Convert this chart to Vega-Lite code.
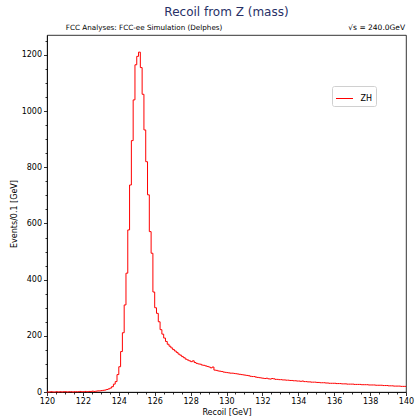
{
  "$schema": "https://vega.github.io/schema/vega-lite/v6.json",
  "autosize": {"type": "none"},
  "width": 359,
  "height": 357,
  "padding": {"left": 47, "top": 35, "right": 9, "bottom": 25},
  "background": "white",
  "title": {"text": "Recoil from Z (mass)", "fontSize": 12, "font": "DejaVu Sans", "fontWeight": "normal", "color": "#273066", "anchor": "middle", "offset": 5},
  "config": {
    "view": {"stroke": "#000", "strokeWidth": 0.8},
    "font": "DejaVu Sans",
    "axis": {"labelFont": "DejaVu Sans", "labelFontSize": 8, "labelColor": "#000", "titleFont": "DejaVu Sans", "titleFontSize": 8, "titleFontWeight": "normal", "titleColor": "#000", "tickColor": "#000", "domainColor": "#000", "grid": false, "tickSize": 3.5, "labelPadding": 2, "titlePadding": 3, "domainWidth": 0.8, "tickWidth": 0.8, "labelFlush": false, "labelOverlap": false}
  },
  "data": {"values": [
    {"recoil": 120.0, "events": 0}, {"recoil": 120.1, "events": 0}, {"recoil": 120.2, "events": 1}, {"recoil": 120.3, "events": 0}, {"recoil": 120.4, "events": 0},
    {"recoil": 120.5, "events": 1}, {"recoil": 120.6, "events": 0}, {"recoil": 120.7, "events": 1}, {"recoil": 120.8, "events": 0}, {"recoil": 120.9, "events": 1},
    {"recoil": 121.0, "events": 1}, {"recoil": 121.1, "events": 0}, {"recoil": 121.2, "events": 1}, {"recoil": 121.3, "events": 1}, {"recoil": 121.4, "events": 0},
    {"recoil": 121.5, "events": 1}, {"recoil": 121.6, "events": 1}, {"recoil": 121.7, "events": 1}, {"recoil": 121.8, "events": 2}, {"recoil": 121.9, "events": 1},
    {"recoil": 122.0, "events": 1}, {"recoil": 122.1, "events": 2}, {"recoil": 122.2, "events": 1}, {"recoil": 122.3, "events": 2}, {"recoil": 122.4, "events": 2},
    {"recoil": 122.5, "events": 3}, {"recoil": 122.6, "events": 2}, {"recoil": 122.7, "events": 3}, {"recoil": 122.8, "events": 4}, {"recoil": 122.9, "events": 4},
    {"recoil": 123.0, "events": 5}, {"recoil": 123.1, "events": 6}, {"recoil": 123.2, "events": 7}, {"recoil": 123.3, "events": 9}, {"recoil": 123.4, "events": 11},
    {"recoil": 123.5, "events": 14}, {"recoil": 123.6, "events": 19}, {"recoil": 123.7, "events": 28}, {"recoil": 123.8, "events": 37}, {"recoil": 123.9, "events": 62},
    {"recoil": 124.0, "events": 90}, {"recoil": 124.1, "events": 144}, {"recoil": 124.2, "events": 211}, {"recoil": 124.3, "events": 310}, {"recoil": 124.4, "events": 423},
    {"recoil": 124.5, "events": 577}, {"recoil": 124.6, "events": 737}, {"recoil": 124.7, "events": 895}, {"recoil": 124.8, "events": 1040}, {"recoil": 124.9, "events": 1165},
    {"recoil": 125.0, "events": 1195}, {"recoil": 125.1, "events": 1210}, {"recoil": 125.2, "events": 1155}, {"recoil": 125.3, "events": 1060}, {"recoil": 125.4, "events": 933},
    {"recoil": 125.5, "events": 820}, {"recoil": 125.6, "events": 702}, {"recoil": 125.7, "events": 571}, {"recoil": 125.8, "events": 494}, {"recoil": 125.9, "events": 356},
    {"recoil": 126.0, "events": 300}, {"recoil": 126.1, "events": 280}, {"recoil": 126.2, "events": 250}, {"recoil": 126.3, "events": 222}, {"recoil": 126.4, "events": 206},
    {"recoil": 126.5, "events": 192}, {"recoil": 126.6, "events": 180}, {"recoil": 126.7, "events": 170}, {"recoil": 126.8, "events": 163}, {"recoil": 126.9, "events": 157},
    {"recoil": 127.0, "events": 151}, {"recoil": 127.1, "events": 146}, {"recoil": 127.2, "events": 141}, {"recoil": 127.3, "events": 135}, {"recoil": 127.4, "events": 131},
    {"recoil": 127.5, "events": 126}, {"recoil": 127.6, "events": 122}, {"recoil": 127.7, "events": 117}, {"recoil": 127.8, "events": 114}, {"recoil": 127.9, "events": 111},
    {"recoil": 128.0, "events": 108}, {"recoil": 128.1, "events": 111}, {"recoil": 128.2, "events": 105}, {"recoil": 128.3, "events": 102}, {"recoil": 128.4, "events": 100},
    {"recoil": 128.5, "events": 99}, {"recoil": 128.6, "events": 96}, {"recoil": 128.7, "events": 95}, {"recoil": 128.8, "events": 93}, {"recoil": 128.9, "events": 91},
    {"recoil": 129.0, "events": 89}, {"recoil": 129.1, "events": 86}, {"recoil": 129.2, "events": 89}, {"recoil": 129.3, "events": 78}, {"recoil": 129.4, "events": 77},
    {"recoil": 129.5, "events": 75}, {"recoil": 129.6, "events": 74}, {"recoil": 129.7, "events": 73}, {"recoil": 129.8, "events": 71}, {"recoil": 129.9, "events": 70},
    {"recoil": 130.0, "events": 69}, {"recoil": 130.1, "events": 68}, {"recoil": 130.2, "events": 67}, {"recoil": 130.3, "events": 67}, {"recoil": 130.4, "events": 66},
    {"recoil": 130.5, "events": 65}, {"recoil": 130.6, "events": 64}, {"recoil": 130.7, "events": 63}, {"recoil": 130.8, "events": 62}, {"recoil": 130.9, "events": 61},
    {"recoil": 131.0, "events": 60}, {"recoil": 131.1, "events": 59}, {"recoil": 131.2, "events": 58}, {"recoil": 131.3, "events": 56}, {"recoil": 131.4, "events": 55},
    {"recoil": 131.5, "events": 55}, {"recoil": 131.6, "events": 53}, {"recoil": 131.7, "events": 52}, {"recoil": 131.8, "events": 51}, {"recoil": 131.9, "events": 50},
    {"recoil": 132.0, "events": 49}, {"recoil": 132.1, "events": 48}, {"recoil": 132.2, "events": 49}, {"recoil": 132.3, "events": 47}, {"recoil": 132.4, "events": 46},
    {"recoil": 132.5, "events": 48}, {"recoil": 132.6, "events": 47}, {"recoil": 132.7, "events": 45}, {"recoil": 132.8, "events": 45}, {"recoil": 132.9, "events": 44},
    {"recoil": 133.0, "events": 44}, {"recoil": 133.1, "events": 43}, {"recoil": 133.2, "events": 43}, {"recoil": 133.3, "events": 42}, {"recoil": 133.4, "events": 42},
    {"recoil": 133.5, "events": 41}, {"recoil": 133.6, "events": 41}, {"recoil": 133.7, "events": 40}, {"recoil": 133.8, "events": 40}, {"recoil": 133.9, "events": 39},
    {"recoil": 134.0, "events": 39}, {"recoil": 134.1, "events": 38}, {"recoil": 134.2, "events": 39}, {"recoil": 134.3, "events": 37}, {"recoil": 134.4, "events": 37},
    {"recoil": 134.5, "events": 36}, {"recoil": 134.6, "events": 36}, {"recoil": 134.7, "events": 35}, {"recoil": 134.8, "events": 35}, {"recoil": 134.9, "events": 35},
    {"recoil": 135.0, "events": 34}, {"recoil": 135.1, "events": 34}, {"recoil": 135.2, "events": 33}, {"recoil": 135.3, "events": 33}, {"recoil": 135.4, "events": 33},
    {"recoil": 135.5, "events": 32}, {"recoil": 135.6, "events": 32}, {"recoil": 135.7, "events": 31}, {"recoil": 135.8, "events": 31}, {"recoil": 135.9, "events": 31},
    {"recoil": 136.0, "events": 31}, {"recoil": 136.1, "events": 30}, {"recoil": 136.2, "events": 30}, {"recoil": 136.3, "events": 30}, {"recoil": 136.4, "events": 29},
    {"recoil": 136.5, "events": 29}, {"recoil": 136.6, "events": 29}, {"recoil": 136.7, "events": 28}, {"recoil": 136.8, "events": 28}, {"recoil": 136.9, "events": 28},
    {"recoil": 137.0, "events": 28}, {"recoil": 137.1, "events": 27}, {"recoil": 137.2, "events": 27}, {"recoil": 137.3, "events": 27}, {"recoil": 137.4, "events": 27},
    {"recoil": 137.5, "events": 26}, {"recoil": 137.6, "events": 26}, {"recoil": 137.7, "events": 26}, {"recoil": 137.8, "events": 26}, {"recoil": 137.9, "events": 25},
    {"recoil": 138.0, "events": 25}, {"recoil": 138.1, "events": 25}, {"recoil": 138.2, "events": 25}, {"recoil": 138.3, "events": 24}, {"recoil": 138.4, "events": 24},
    {"recoil": 138.5, "events": 24}, {"recoil": 138.6, "events": 24}, {"recoil": 138.7, "events": 23}, {"recoil": 138.8, "events": 23}, {"recoil": 138.9, "events": 23},
    {"recoil": 139.0, "events": 22}, {"recoil": 139.1, "events": 22}, {"recoil": 139.2, "events": 22}, {"recoil": 139.3, "events": 21}, {"recoil": 139.4, "events": 21},
    {"recoil": 139.5, "events": 21}, {"recoil": 139.6, "events": 21}, {"recoil": 139.7, "events": 20}, {"recoil": 139.8, "events": 20}, {"recoil": 139.9, "events": 20},
    {"recoil": 140.0, "events": 20}
  ]},
  "layer": [
    {
      "mark": {"type": "line", "interpolate": "step-after", "strokeWidth": 1},
      "encoding": {
        "x": {"field": "recoil", "type": "quantitative", "scale": {"domain": [120, 140], "nice": false, "zero": false},
              "axis": {"orient": "bottom", "values": [120, 122, 124, 126, 128, 130, 132, 134, 136, 138, 140], "title": "Recoil [GeV]", "format": "d"}},
        "y": {"field": "events", "type": "quantitative", "scale": {"domain": [0, 1271], "nice": false, "zero": true},
              "axis": {"orient": "left", "values": [0, 200, 400, 600, 800, 1000, 1200], "title": "Events/0.1 [GeV]", "format": "d"}},
        "color": {"datum": "ZH", "scale": {"range": ["#ff0000"]},
                  "legend": {"orient": "none", "legendX": 285, "legendY": 51, "title": null, "symbolType": "stroke", "symbolSize": 289, "symbolStrokeWidth": 1, "labelFontSize": 8, "labelFont": "DejaVu Sans", "labelColor": "#000", "labelOffset": 7, "strokeColor": "#d0d0d0", "cornerRadius": 2, "padding": 3.5, "fillColor": "white"}}
      }
    },
    {
      "mark": {"type": "line", "opacity": 0},
      "encoding": {
        "x": {"field": "recoil", "type": "quantitative",
              "axis": {"orient": "bottom", "values": [120.5, 121, 121.5, 122.5, 123, 123.5, 124.5, 125, 125.5, 126.5, 127, 127.5, 128.5, 129, 129.5, 130.5, 131, 131.5, 132.5, 133, 133.5, 134.5, 135, 135.5, 136.5, 137, 137.5, 138.5, 139, 139.5], "labels": false, "tickSize": 2, "domain": false, "title": null}},
        "y": {"field": "events", "type": "quantitative",
              "axis": {"orient": "left", "values": [50, 100, 150, 250, 300, 350, 450, 500, 550, 650, 700, 750, 850, 900, 950, 1050, 1100, 1150, 1250], "labels": false, "tickSize": 2, "domain": false, "title": null}}
      }
    },
    {
      "data": {"values": [{"t": "FCC Analyses: FCC-ee Simulation (Delphes)"}]},
      "mark": {"type": "text", "align": "left", "baseline": "alphabetic", "fontSize": 7.2, "font": "DejaVu Sans", "color": "#000"},
      "encoding": {
        "x": {"datum": 121.05, "type": "quantitative", "axis": null},
        "y": {"datum": 1289, "type": "quantitative", "axis": null},
        "text": {"field": "t"}
      }
    },
    {
      "data": {"values": [{"t": "√s = 240.0GeV"}]},
      "mark": {"type": "text", "align": "right", "baseline": "alphabetic", "fontSize": 7.5, "font": "DejaVu Sans", "color": "#000"},
      "encoding": {
        "x": {"datum": 139.95, "type": "quantitative", "axis": null},
        "y": {"datum": 1289, "type": "quantitative", "axis": null},
        "text": {"field": "t"}
      }
    }
  ],
  "resolve": {"axis": {"x": "independent", "y": "independent"}}
}
